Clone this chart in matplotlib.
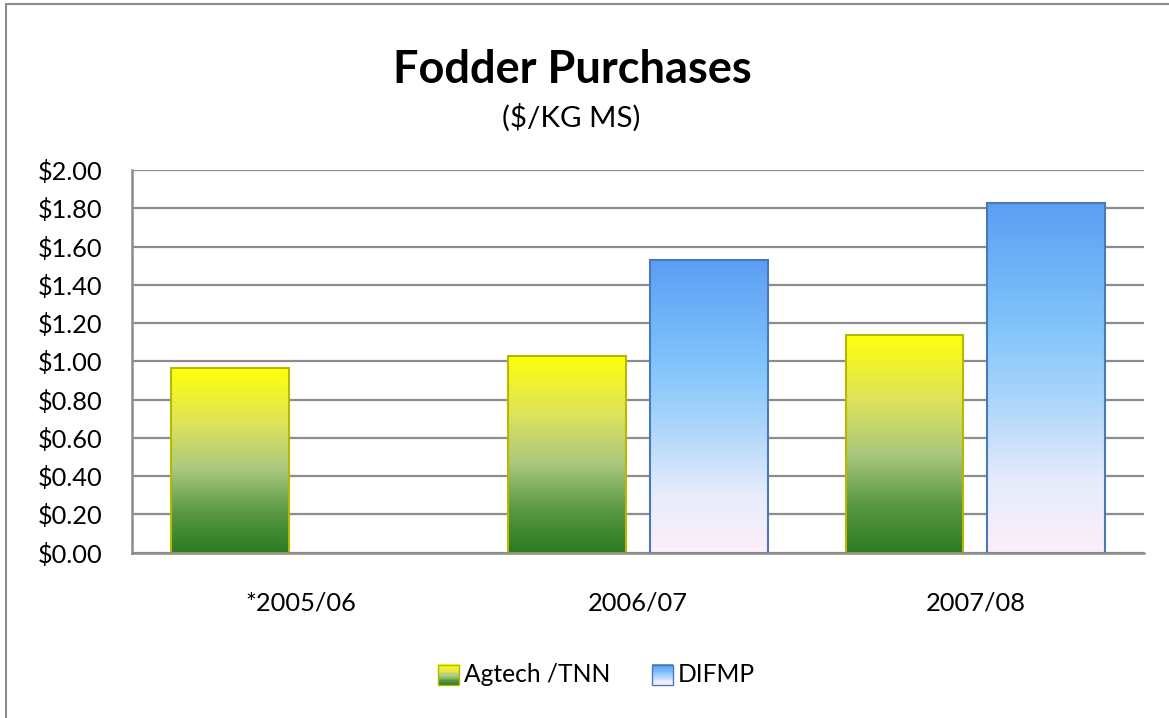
import numpy as np
import matplotlib
matplotlib.use("Agg")
import matplotlib.pyplot as plt
from matplotlib.colors import LinearSegmentedColormap
from matplotlib.patches import Rectangle
from matplotlib.legend_handler import HandlerBase

# data
categories = ["*2005/06", "2006/07", "2007/08"]
agtech = [0.965, 1.03, 1.14]
difmp = [np.nan, 1.53, 1.83]
series_names = ["Agtech /TNN", "DIFMP"]
yticks = np.arange(0, 2.01, 0.2)

plt.rcParams['font.family'] = ['Lato', 'DejaVu Sans']

# gradients, bottom -> top
green_cmap = LinearSegmentedColormap.from_list(
    "agtech", [(0.0, "#2a7a22"), (0.22, "#5a9844"), (0.45, "#a9c77e"),
               (0.7, "#dde45a"), (1.0, "#ffff0a")])
blue_cmap = LinearSegmentedColormap.from_list(
    "difmp", [(0.0, "#fdeefa"), (0.2, "#e6ecfc"), (0.45, "#a8d4fa"),
              (0.65, "#80c4fc"), (1.0, "#5c9ef4")])
edge_cols = ["#b8b800", "#4a78b8"]
cmaps = [green_cmap, blue_cmap]

fig = plt.figure(figsize=(11.69, 7.18), dpi=100)
ax = fig.add_axes([0.1129, 0.2302, 0.8657, 0.5330])

x = np.arange(len(categories))
width = 0.348
offset = 0.21
grad = np.linspace(0, 1, 256).reshape(-1, 1)

for i, vals in enumerate([agtech, difmp]):
    bars = ax.bar(x + (i * 2 - 1) * offset, vals, width, facecolor="none",
                  edgecolor=edge_cols[i], linewidth=1.5, zorder=3)
    for b in bars:
        h = b.get_height()
        if not np.isfinite(h):
            continue
        x0 = b.get_x()
        ax.imshow(grad, cmap=cmaps[i], origin="lower", aspect="auto",
                  extent=[x0, x0 + b.get_width(), 0, h], zorder=2)

ax.set_xlim(-0.5, len(categories) - 0.5)
ax.set_ylim(0, 2.0)
ax.set_yticks(yticks)
ax.set_yticklabels([f"${v:.2f}" for v in yticks])
ax.set_xticks(x)
ax.set_xticklabels(categories)
ax.tick_params(axis="both", length=0, labelsize=18, colors="#000000")
ax.tick_params(axis="y", pad=21)
ax.tick_params(axis="x", pad=28)
ax.grid(axis="y", color="#8c8c8c", linewidth=1.6, zorder=0)
ax.set_axisbelow(True)
for s in ["top", "right"]:
    ax.spines[s].set_visible(False)
for s in ["left", "bottom"]:
    ax.spines[s].set_color("#8c8c8c")
    ax.spines[s].set_linewidth(1.8)
    ax.spines[s].set_zorder(4)


class GradHandler(HandlerBase):
    def __init__(self, cmap, edge):
        super().__init__()
        self.cmap = cmap
        self.edge = edge

    def create_artists(self, legend, orig_handle, xdescent, ydescent,
                       width, height, fontsize, trans):
        s = 15
        x0 = -xdescent + width - s
        y0 = -ydescent + height / 2 - s / 2 - 1
        arts = []
        n = 12
        for k in range(n):
            arts.append(Rectangle((x0, y0 + s * k / n), s, s / n + 0.3,
                                  facecolor=self.cmap(k / (n - 1)),
                                  edgecolor="none", transform=trans))
        arts.append(Rectangle((x0, y0), s, s, facecolor="none",
                              edgecolor=self.edge, linewidth=1, transform=trans))
        return arts


h1 = Rectangle((0, 0), 1, 1)
h2 = Rectangle((0, 0), 1, 1)
leg = fig.legend([h1, h2], series_names, loc="center", bbox_to_anchor=(0.5086, 0.060),
                 ncol=2, frameon=False, fontsize=18, handlelength=1.0,
                 handletextpad=0.2, columnspacing=1.5,
                 handler_map={h1: GradHandler(green_cmap, edge_cols[0]),
                              h2: GradHandler(blue_cmap, edge_cols[1])})

title = fig.text(0.4897, 0.8844, "Fodder Purchases", ha="center", va="baseline",
                 fontsize=31, fontweight="bold")
subtitle = fig.text(0.4885, 0.8231, "($/KG MS)", ha="center", va="baseline",
                    fontsize=21)

# scale fonts so the text widths match the reference
renderer = fig.canvas.get_renderer()


def fit_width(t, px):
    w = t.get_window_extent(renderer).width
    return t.get_fontsize() * px / w


title.set_fontsize(fit_width(title, 359))
subtitle.set_fontsize(fit_width(subtitle, 138))
tick_fs = fit_width(ax.get_xticklabels()[1], 100)
ax.tick_params(axis="both", labelsize=tick_fs)
leg_fs = fit_width(leg.get_texts()[0], 146)
for t in leg.get_texts():
    t.set_fontsize(leg_fs)

fig.patches.append(Rectangle((0.005, -0.01), 1.1, 1.004, transform=fig.transFigure,
                             facecolor="none", edgecolor="#8c8c8c", linewidth=1.5))

fig.savefig("out.png", dpi=100)
